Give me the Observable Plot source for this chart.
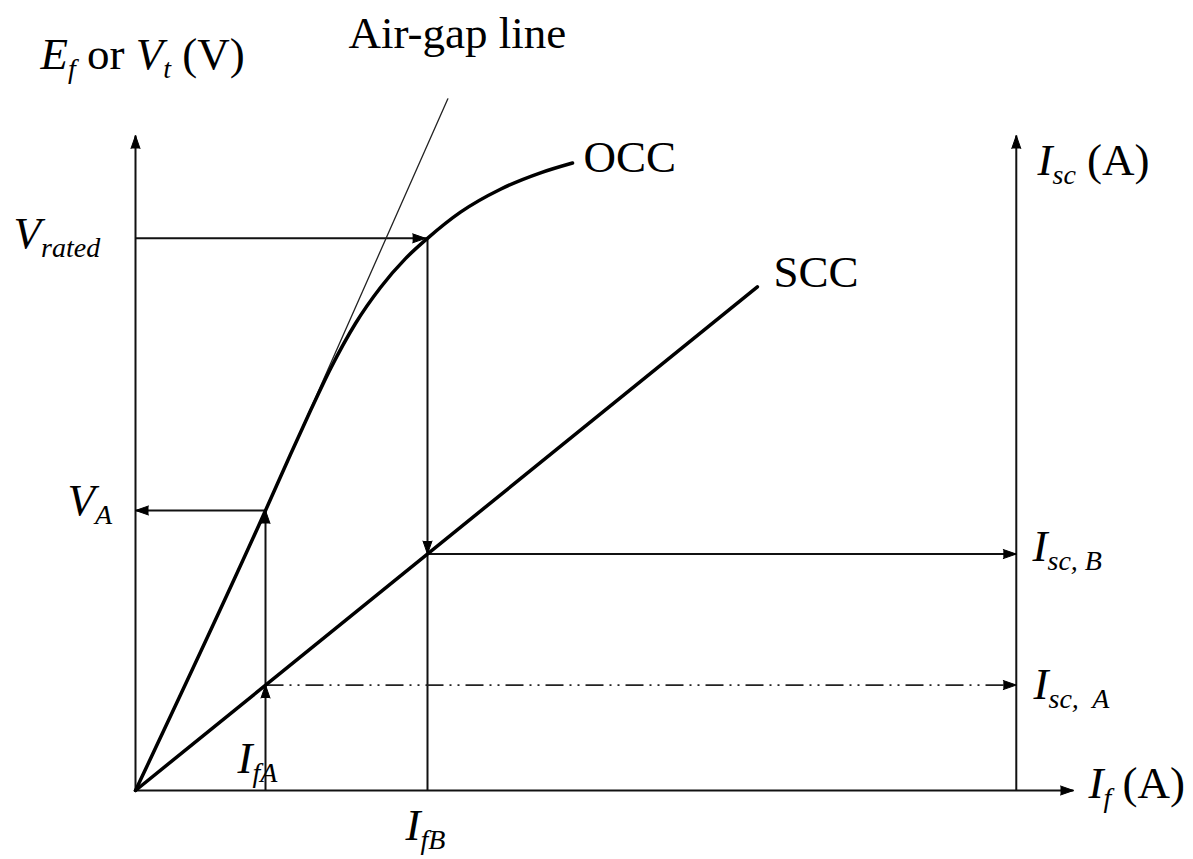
<!DOCTYPE html>
<html><head><meta charset="utf-8">
<script src="https://cdn.jsdelivr.net/npm/d3@7"></script>
<script src="https://cdn.jsdelivr.net/npm/@observablehq/plot@0.6"></script>
<style>body{margin:0;background:#fff;} #chart svg{background:#fff;}</style>
</head><body><div id="chart"></div>
<script>
// ---- data (field current I_f and voltage / current in arbitrary units) ----
const occIf = [0, 1.386, 1.652, 1.866, 2.079, 2.345, 2.612, 2.878, 3.113, 3.465, 3.891, 4.318, 4.659];
const occV  = [0, 4.275, 5.13, 5.80, 6.44, 7.13, 7.68, 8.12, 8.43, 8.83, 9.18, 9.43, 9.58];
const sccIf  = [0, 6.63];
const sccIsc = [0, 7.69];
const airGapIf = [1.386, 3.33];
const airGapV  = [4.275, 10.56];
const IfA = 1.386, IfB = 3.113;
const VA = 4.275, Vrated = 8.43;
const IscA = 1.61, IscB = 3.61;
const axisMax = 10, rightAxisIf = 9.39;

// labels: {i:..} italic, {s:..} italic subscript, rest upright
const labelText = ["{i:E}{s:f} or {i:V}{s:t} (V)", "Air-gap line", "OCC", "SCC", "{i:V}{s:rated}", "{i:V}{s:A}",
                   "{i:I}{s:fA}", "{i:I}{s:fB}", "{i:I}{s:sc} (A)", "{i:I}{s:sc, B}", "{i:I}{s:sc,  A}", "{i:I}{s:f} (A)"];
const labelX = [-1.013, 2.271, 4.776, 6.802, -1.30, -0.725, 1.087, 2.878, 9.616, 9.563, 9.574, 10.16];
const labelY = [11.02, 11.34, 9.45, 7.68, 8.29, 4.20, 0.26, -0.76, 9.39, 3.51, 1.40, -0.12];

// ---- derived tables ----
const occ = occIf.map((x, i) => ({x, y: occV[i]}));
const scc = sccIf.map((x, i) => ({x, y: sccIsc[i]}));
const airGap = airGapIf.map((x, i) => ({x, y: airGapV[i]}));
const axes = [
  {x1: 0, y1: 0, x2: 0, y2: axisMax},
  {x1: 0, y1: 0, x2: axisMax, y2: 0},
  {x1: rightAxisIf, y1: 0, x2: rightAxisIf, y2: axisMax}
];
const guides = [
  {x1: 0, y1: Vrated, x2: IfB, y2: Vrated},
  {x1: IfB, y1: Vrated, x2: IfB, y2: 0},
  {x1: IfB, y1: IscB, x2: rightAxisIf, y2: IscB},
  {x1: 0, y1: VA, x2: IfA, y2: VA},
  {x1: IfA, y1: 0, x2: IfA, y2: VA}
];
const dashGuide = [{x1: IfA, y1: IscA, x2: rightAxisIf, y2: IscA}];
const heads = [
  {x: 0, y: axisMax, dir: 0},
  {x: axisMax, y: 0, dir: 90},
  {x: rightAxisIf, y: axisMax, dir: 0},
  {x: IfB - 0.02, y: Vrated, dir: 90},
  {x: IfB, y: IscB, dir: 180},
  {x: rightAxisIf, y: IscB, dir: 90},
  {x: 0, y: VA, dir: 270},
  {x: IfA, y: VA, dir: 0},
  {x: IfA, y: IscA, dir: 0},
  {x: rightAxisIf, y: IscA, dir: 90}
];
const labels = labelText.map((t, i) => ({t, x: labelX[i], y: labelY[i]}));

const chart = Plot.plot({
  width: 1193, height: 859,
  marginLeft: 135, marginRight: 120, marginTop: 135, marginBottom: 69,
  x: {domain: [0, 10], axis: null},
  y: {domain: [0, 10], axis: null},
  style: {background: "#fff", color: "#000", fontFamily: "'Liberation Serif', 'Times New Roman', serif"},
  marks: [
    Plot.link(axes, {x1: "x1", y1: "y1", x2: "x2", y2: "y2", stroke: "#111", strokeWidth: 2}),
    Plot.link(guides, {x1: "x1", y1: "y1", x2: "x2", y2: "y2", stroke: "#111", strokeWidth: 2}),
    Plot.link(dashGuide, {x1: "x1", y1: "y1", x2: "x2", y2: "y2", stroke: "#222", strokeWidth: 1.8, strokeDasharray: "18,6,2,6,2,6"}),
    Plot.line(airGap, {x: "x", y: "y", stroke: "#222", strokeWidth: 1.3}),
    Plot.line(occ, {x: "x", y: "y", curve: "monotone-x", stroke: "#000", strokeWidth: 3.5}),
    Plot.line(scc, {x: "x", y: "y", stroke: "#000", strokeWidth: 3.5}),
    Plot.vector(heads, {x: "x", y: "y", rotate: "dir", shape: "spike", anchor: "end",
      length: 13, r: 4.5, fill: "#000", stroke: "#000", strokeWidth: 1}),
    Plot.text(labels, {x: "x", y: "y", text: "t", textAnchor: "start", lineAnchor: "bottom",
      fontFamily: "Liberation Serif", fontSize: 45, fill: "#000"})
  ]
});

// typographic markup: italic parts and subscripts as tspans
const SUB = 28, SHIFT = 9;
const re = /\{([is]):([^}]*)\}|([^{]+)/g;
chart.querySelectorAll('g[aria-label="text"] text').forEach(t => {
  const s = t.textContent;
  if (!s.includes("{")) return;
  t.textContent = "";
  let down = false;
  for (const m of s.matchAll(re)) {
    const ts = document.createElementNS("http://www.w3.org/2000/svg", "tspan");
    if (m[1] === "s") {
      ts.textContent = m[2];
      ts.setAttribute("font-style", "italic");
      ts.setAttribute("font-size", SUB);
      if (!down) { ts.setAttribute("dy", SHIFT); down = true; }
    } else {
      ts.textContent = m[1] === "i" ? m[2] : m[3];
      if (m[1] === "i") ts.setAttribute("font-style", "italic");
      if (down) { ts.setAttribute("dy", -SHIFT); down = false; }
    }
    t.appendChild(ts);
  }
});
chart.querySelectorAll('g[aria-label="text"]').forEach(g => g.style.whiteSpace = "pre");

document.getElementById("chart").appendChild(chart);
</script>
</body></html>
